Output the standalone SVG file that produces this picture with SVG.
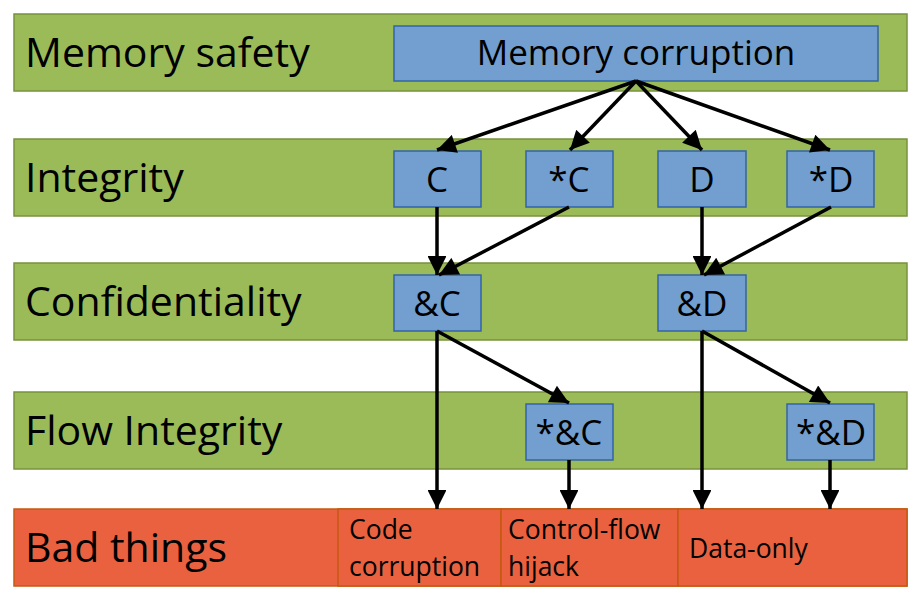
<svg xmlns="http://www.w3.org/2000/svg" width="922" height="614" viewBox="0 0 922 614">
<style>
.band{fill:#9bbb59;stroke:#77933c;stroke-width:1.5}
.bad{fill:#ea613f;stroke:#c55a11;stroke-width:1.5}
.node{fill:#729fcf;stroke:#3465a4;stroke-width:1.5}
text{font-family:"Open Sans","Noto Sans","DejaVu Sans",sans-serif;fill:#000}
.lbl{font-size:41px}
.nt{font-size:35px;text-anchor:middle}
.st{font-size:26.5px}
.conn line{stroke:#000;stroke-width:3.5;marker-end:url(#ah)}
</style>
<defs>
<marker id="ah" viewBox="0 0 10 10" refX="10" refY="5" markerWidth="6" markerHeight="5.4" orient="auto" markerUnits="strokeWidth">
<path d="M0,0L10,5L0,10z" fill="#000"/>
</marker>
</defs>
<g id="band-memory-safety"><rect class="band" x="14" y="14" width="893" height="77"/><text class="lbl" x="25" y="67">Memory safety</text></g>
<g id="band-integrity"><rect class="band" x="14" y="139" width="893" height="77"/><text class="lbl" x="25" y="192">Integrity</text></g>
<g id="band-confidentiality"><rect class="band" x="14" y="263" width="893" height="77"/><text class="lbl" x="25" y="316">Confidentiality</text></g>
<g id="band-flow-integrity"><rect class="band" x="14" y="392" width="893" height="77"/><text class="lbl" x="25" y="445">Flow Integrity</text></g>
<g id="band-bad-things"><rect class="bad" x="14" y="509" width="893" height="77"/><text class="lbl" x="25" y="562">Bad things</text></g>
<g id="code-corruption"><rect class="bad" x="338" y="509" width="163" height="77"/><text class="st" x="349" y="539">Code</text><text class="st" x="349" y="576">corruption</text></g>
<g id="control-flow-hijack"><rect class="bad" x="501" y="509" width="177" height="77"/><text class="st" x="508" y="539">Control-flow</text><text class="st" x="508" y="576">hijack</text></g>
<g id="data-only"><rect class="bad" x="678" y="509" width="229" height="77"/><text class="st" x="689" y="558">Data-only</text></g>
<g id="memory-corruption"><rect class="node" x="394" y="26" width="484" height="55"/><text class="nt" x="636" y="65">Memory corruption</text></g>
<g id="C"><rect class="node" x="394" y="151" width="87" height="56"/><text class="nt" x="437" y="192">C</text></g>
<g id="pC"><rect class="node" x="526" y="151" width="87" height="56"/><text class="nt" x="569" y="192">*C</text></g>
<g id="D"><rect class="node" x="658" y="151" width="88" height="56"/><text class="nt" x="702" y="192">D</text></g>
<g id="pD"><rect class="node" x="787" y="151" width="87" height="56"/><text class="nt" x="831" y="192">*D</text></g>
<g id="aC"><rect class="node" x="394" y="275" width="87" height="56"/><text class="nt" x="437" y="316">&amp;C</text></g>
<g id="aD"><rect class="node" x="658" y="275" width="88" height="56"/><text class="nt" x="702" y="316">&amp;D</text></g>
<g id="paC"><rect class="node" x="526" y="404" width="87" height="56"/><text class="nt" x="569" y="445">*&amp;C</text></g>
<g id="paD"><rect class="node" x="787" y="404" width="87" height="56"/><text class="nt" x="831" y="445">*&amp;D</text></g>
<g class="conn" id="connectors">
<line x1="636" y1="81" x2="437" y2="150"/>
<line x1="636" y1="81" x2="570" y2="150"/>
<line x1="636" y1="81" x2="702" y2="150"/>
<line x1="636" y1="81" x2="830" y2="150"/>
<line x1="437" y1="207" x2="437" y2="275"/>
<line x1="569" y1="207" x2="439" y2="275"/>
<line x1="702" y1="207" x2="702" y2="275"/>
<line x1="831" y1="207" x2="704" y2="275"/>
<line x1="437" y1="331" x2="437" y2="509"/>
<line x1="437" y1="331" x2="569" y2="403"/>
<line x1="702" y1="331" x2="702" y2="509"/>
<line x1="702" y1="331" x2="830" y2="403"/>
<line x1="569" y1="460" x2="569" y2="509"/>
<line x1="830" y1="460" x2="830" y2="509"/>
</g>
</svg>
